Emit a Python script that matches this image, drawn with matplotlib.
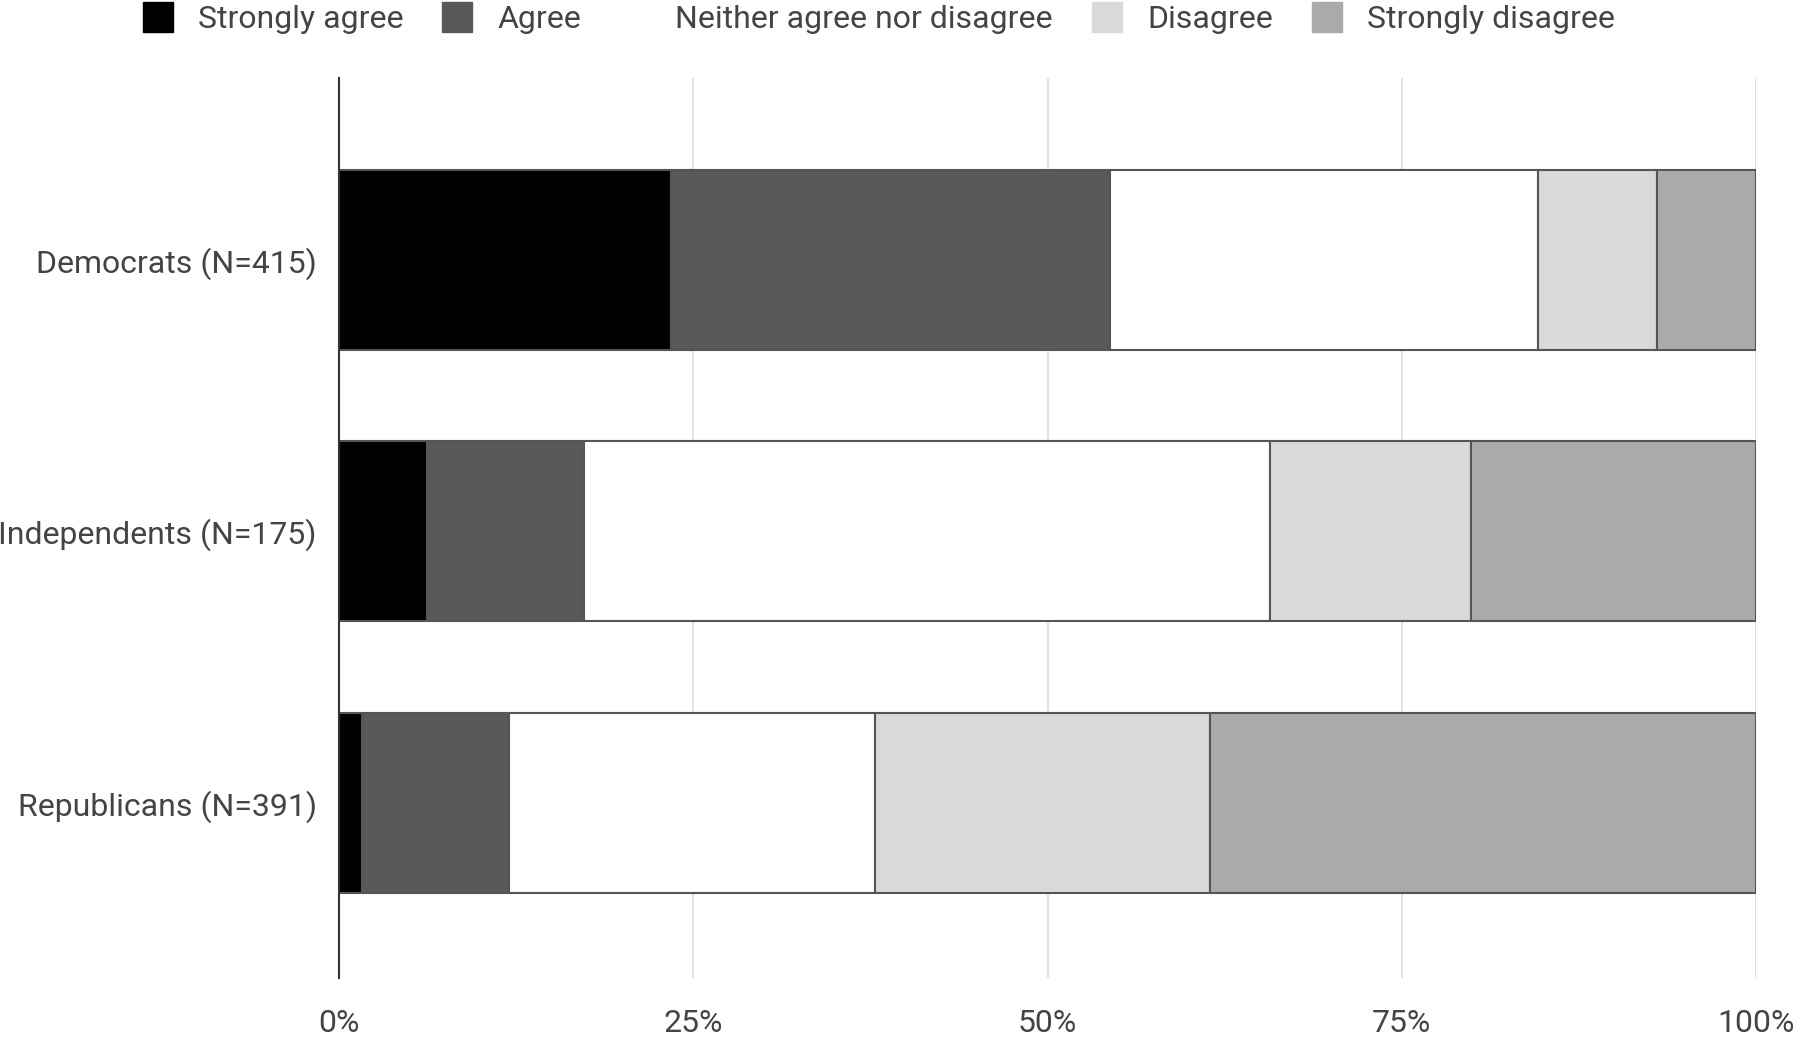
import matplotlib
matplotlib.use('Agg')
import matplotlib.pyplot as plt
from matplotlib.lines import Line2D
import numpy as np

# data (percent of each group)
groups = ['Democrats (N=415)', 'Independents (N=175)', 'Republicans (N=391)']
responses = ['Strongly agree', 'Agree', 'Neither agree nor disagree', 'Disagree', 'Strongly disagree']
strongly_agree = [23.4, 6.2, 1.6]
agree = [31.0, 11.1, 10.4]
neither = [30.2, 48.4, 25.8]
disagree = [8.4, 14.2, 23.7]
strongly_disagree = [7.0, 20.1, 38.5]
colors = ['#000000', '#595959', '#ffffff', '#d9d9d9', '#aaaaaa']
x_ticks = [0, 25, 50, 75, 100]
x_labels = ['0%', '25%', '50%', '75%', '100%']

plt.rcParams['font.family'] = ['Roboto', 'DejaVu Sans']

fig = plt.figure(figsize=(18, 10.38), dpi=100, facecolor='white')
ax = fig.add_axes([0.1883, 0.0578, 0.7873, 0.8671])

series = [strongly_agree, agree, neither, disagree, strongly_disagree]
y = np.arange(len(groups))
left = np.zeros(len(groups))
for vals, col in zip(series, colors):
    ax.barh(y, vals, left=left, height=0.663, color=col,
            edgecolor='#555555', linewidth=1.5, zorder=3)
    left += np.array(vals)

ax.set_xlim(0, 100)
ax.set_ylim(2.645, -0.67)
ax.set_xticks(x_ticks)
ax.set_xticklabels(x_labels)
ax.set_yticks(y)
ax.set_yticklabels(groups)
ax.tick_params(axis='both', length=0, labelsize=23, colors='#444444')
ax.tick_params(axis='x', pad=22)
ax.tick_params(axis='y', pad=16)
ax.grid(axis='x', color='#dddddd', linewidth=1.2, zorder=0)
ax.set_axisbelow(True)

for s in ['top', 'right', 'bottom']:
    ax.spines[s].set_visible(False)
ax.spines['left'].set_color('#333333')
ax.spines['left'].set_linewidth(1.5)
ax.spines['left'].set_zorder(4)

handles = [Line2D([], [], marker='s', linestyle='none', markersize=22,
                  markerfacecolor=c, markeredgecolor=c) for c in colors]
fig.legend(handles, responses, loc='center', bbox_to_anchor=(0.488, 0.981),
           ncol=5, frameon=False, fontsize=23, labelcolor='#444444',
           handlelength=1.0, handletextpad=0.75, columnspacing=1.2)

fig.savefig('out.png', dpi=100, facecolor='white')
